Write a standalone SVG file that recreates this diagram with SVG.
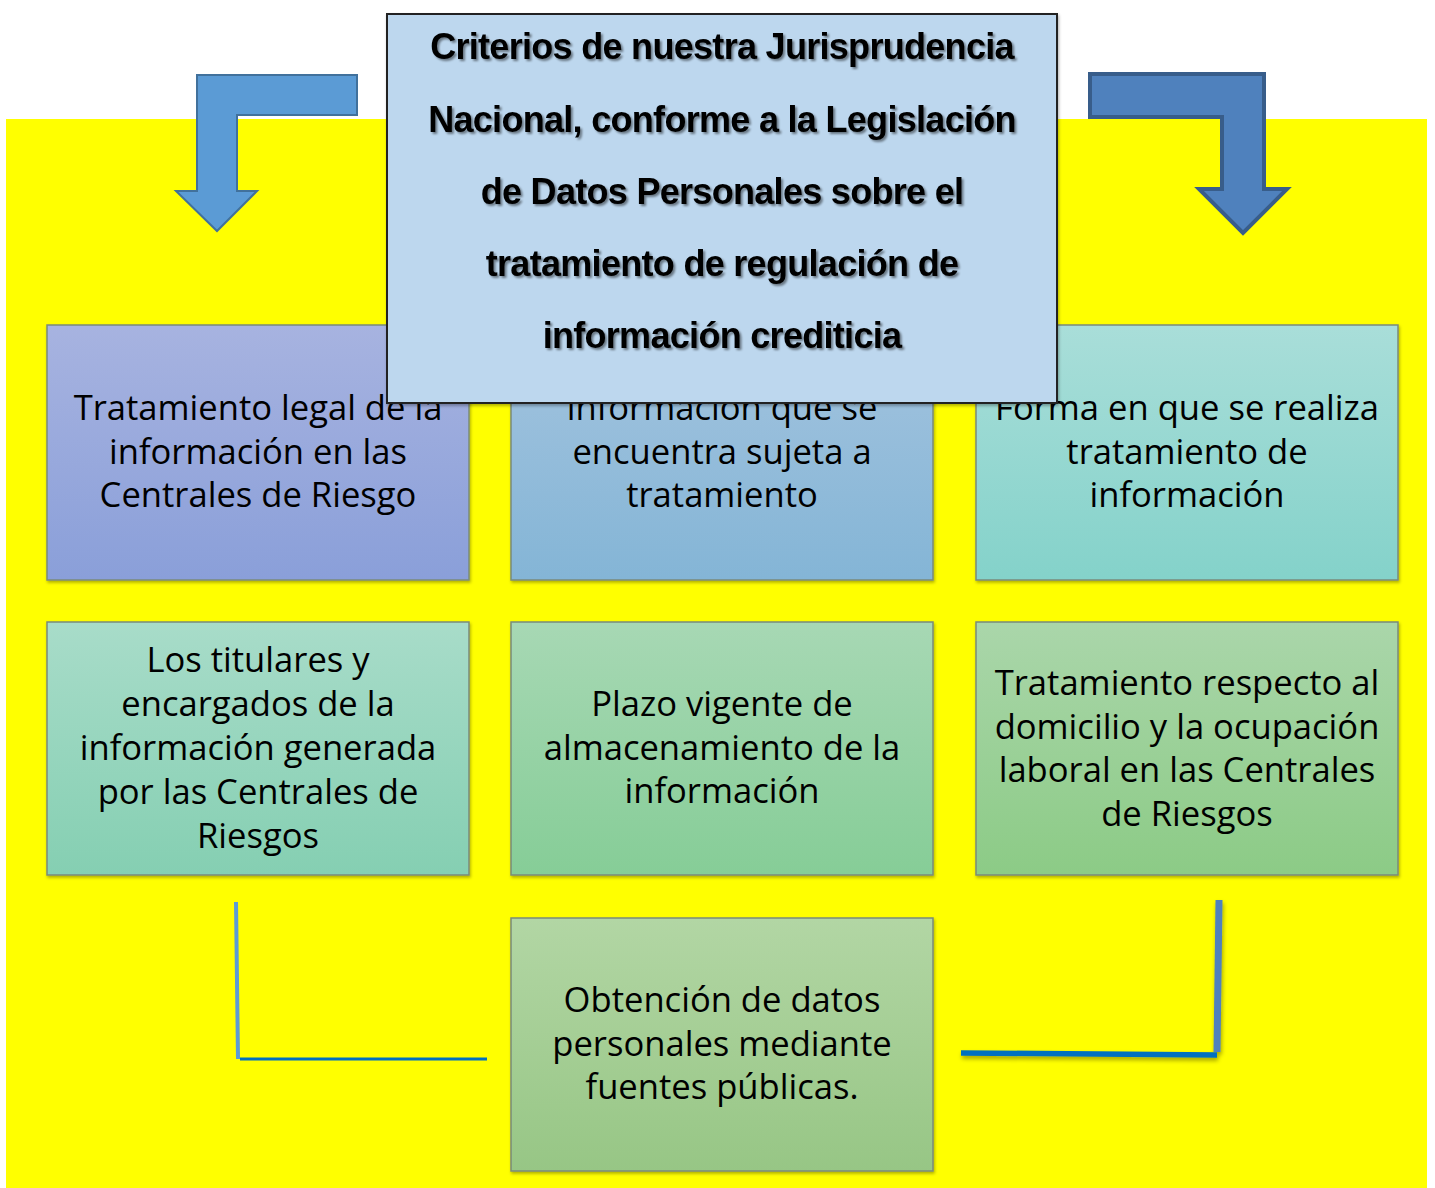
<svg xmlns="http://www.w3.org/2000/svg" width="1435" height="1188" viewBox="0 0 1435 1188">
<defs>
<linearGradient id="g1" x1="0" y1="0" x2="0" y2="1"><stop offset="0" stop-color="#A7B3E0"/><stop offset="1" stop-color="#8A9FD9"/></linearGradient>
<linearGradient id="g2" x1="0" y1="0" x2="0" y2="1"><stop offset="0" stop-color="#A4C4DF"/><stop offset="1" stop-color="#84B5D6"/></linearGradient>
<linearGradient id="g3" x1="0" y1="0" x2="0" y2="1"><stop offset="0" stop-color="#A9DED9"/><stop offset="1" stop-color="#84D2CA"/></linearGradient>
<linearGradient id="g4" x1="0" y1="0" x2="0" y2="1"><stop offset="0" stop-color="#A8DCC9"/><stop offset="1" stop-color="#85CFB2"/></linearGradient>
<linearGradient id="g5" x1="0" y1="0" x2="0" y2="1"><stop offset="0" stop-color="#A7D8B4"/><stop offset="1" stop-color="#86CD97"/></linearGradient>
<linearGradient id="g6" x1="0" y1="0" x2="0" y2="1"><stop offset="0" stop-color="#AAD6AA"/><stop offset="1" stop-color="#8CCB86"/></linearGradient>
<linearGradient id="g7" x1="0" y1="0" x2="0" y2="1"><stop offset="0" stop-color="#B2D6A4"/><stop offset="1" stop-color="#97C685"/></linearGradient>
<filter id="ts" x="-5%" y="-20%" width="110%" height="150%"><feDropShadow dx="2" dy="2" stdDeviation="1.2" flood-color="#000" flood-opacity="0.45"/></filter>
<filter id="sh" x="-5%" y="-5%" width="110%" height="120%"><feDropShadow dx="1" dy="2" stdDeviation="1.5" flood-color="#000" flood-opacity="0.3"/></filter>
<filter id="lsh" x="-5%" y="-50%" width="110%" height="300%"><feDropShadow dx="1" dy="3" stdDeviation="2" flood-color="#000" flood-opacity="0.35"/></filter>
</defs>
<style>
.box{stroke:#7A8A7A;stroke-width:1.5}
.t{font-family:"Open Sans","Noto Sans",sans-serif;font-size:34.6px;fill:#000;text-anchor:middle}
.title{font-family:"Liberation Sans",Arial,sans-serif;font-weight:bold;font-size:36px;letter-spacing:-0.7px;fill:#000;text-anchor:middle}
</style>
<rect x="6" y="119" width="1421" height="1069" fill="#FFFF00"/>
<g id="connectors">
<polygon points="197,75 357,75 357,115 237,115 237,191 257,191 217,231 176,191 197,191" fill="#5B9BD5" stroke="#41719C" stroke-width="2"/>
<polygon points="1090,74 1264,74 1264,189 1287,189 1243,233 1199,189 1222,189 1222,117 1090,117" fill="#4F81BD" stroke="#385D8A" stroke-width="4"/>
<line x1="236" y1="902" x2="238" y2="1059" stroke="#5B9BD5" stroke-width="4"/>
<line x1="240" y1="1059" x2="487" y2="1059" stroke="#0070C0" stroke-width="3"/>
<g filter="url(#lsh)">
<line x1="961" y1="1053" x2="1217" y2="1055" stroke="#0070C0" stroke-width="5.5"/>
<line x1="1219" y1="900" x2="1217" y2="1052" stroke="#4F81BD" stroke-width="7"/>
</g>
</g>
<g id="n1"><rect class="box" x="47" y="325" width="422" height="255" fill="url(#g1)" filter="url(#sh)"/>
<text class="t" x="258" y="420">Tratamiento legal de la</text><text class="t" x="258" y="464">información en las</text><text class="t" x="258" y="507">Centrales de Riesgo</text></g>
<g id="n2"><rect class="box" x="511" y="325" width="422" height="255" fill="url(#g2)" filter="url(#sh)"/>
<text class="t" x="722" y="420">información que se</text><text class="t" x="722" y="464">encuentra sujeta a</text><text class="t" x="722" y="507">tratamiento</text></g>
<g id="n3"><rect class="box" x="976" y="325" width="422" height="255" fill="url(#g3)" filter="url(#sh)"/>
<text class="t" x="1187" y="420">Forma en que se realiza</text><text class="t" x="1187" y="464">tratamiento de</text><text class="t" x="1187" y="507">información</text></g>
<g id="n4"><rect class="box" x="47" y="622" width="422" height="253" fill="url(#g4)" filter="url(#sh)"/>
<text class="t" x="258" y="672">Los titulares y</text><text class="t" x="258" y="716">encargados de la</text><text class="t" x="258" y="760">información generada</text><text class="t" x="258" y="804">por las Centrales de</text><text class="t" x="258" y="848">Riesgos</text></g>
<g id="n5"><rect class="box" x="511" y="622" width="422" height="253" fill="url(#g5)" filter="url(#sh)"/>
<text class="t" x="722" y="716">Plazo vigente de</text><text class="t" x="722" y="760">almacenamiento de la</text><text class="t" x="722" y="803">información</text></g>
<g id="n6"><rect class="box" x="976" y="622" width="422" height="253" fill="url(#g6)" filter="url(#sh)"/>
<text class="t" x="1187" y="695">Tratamiento respecto al</text><text class="t" x="1187" y="739">domicilio y la ocupación</text><text class="t" x="1187" y="782">laboral en las Centrales</text><text class="t" x="1187" y="826">de Riesgos</text></g>
<g id="n7"><rect class="box" x="511" y="918" width="422" height="253" fill="url(#g7)" filter="url(#sh)"/>
<text class="t" x="722" y="1012">Obtención de datos</text><text class="t" x="722" y="1056">personales mediante</text><text class="t" x="722" y="1099">fuentes públicas.</text></g>
<g id="title"><rect x="387" y="14" width="670" height="389" fill="#BDD7EE" stroke="#222" stroke-width="2" filter="url(#sh)"/>
<g filter="url(#ts)">
<text class="title" x="722" y="59">Criterios de nuestra Jurisprudencia</text>
<text class="title" x="722" y="132">Nacional, conforme a la Legislación</text>
<text class="title" x="722" y="204">de Datos Personales sobre el</text>
<text class="title" x="722" y="276">tratamiento de regulación de</text>
<text class="title" x="722" y="348">información crediticia</text>
</g></g>
</svg>
